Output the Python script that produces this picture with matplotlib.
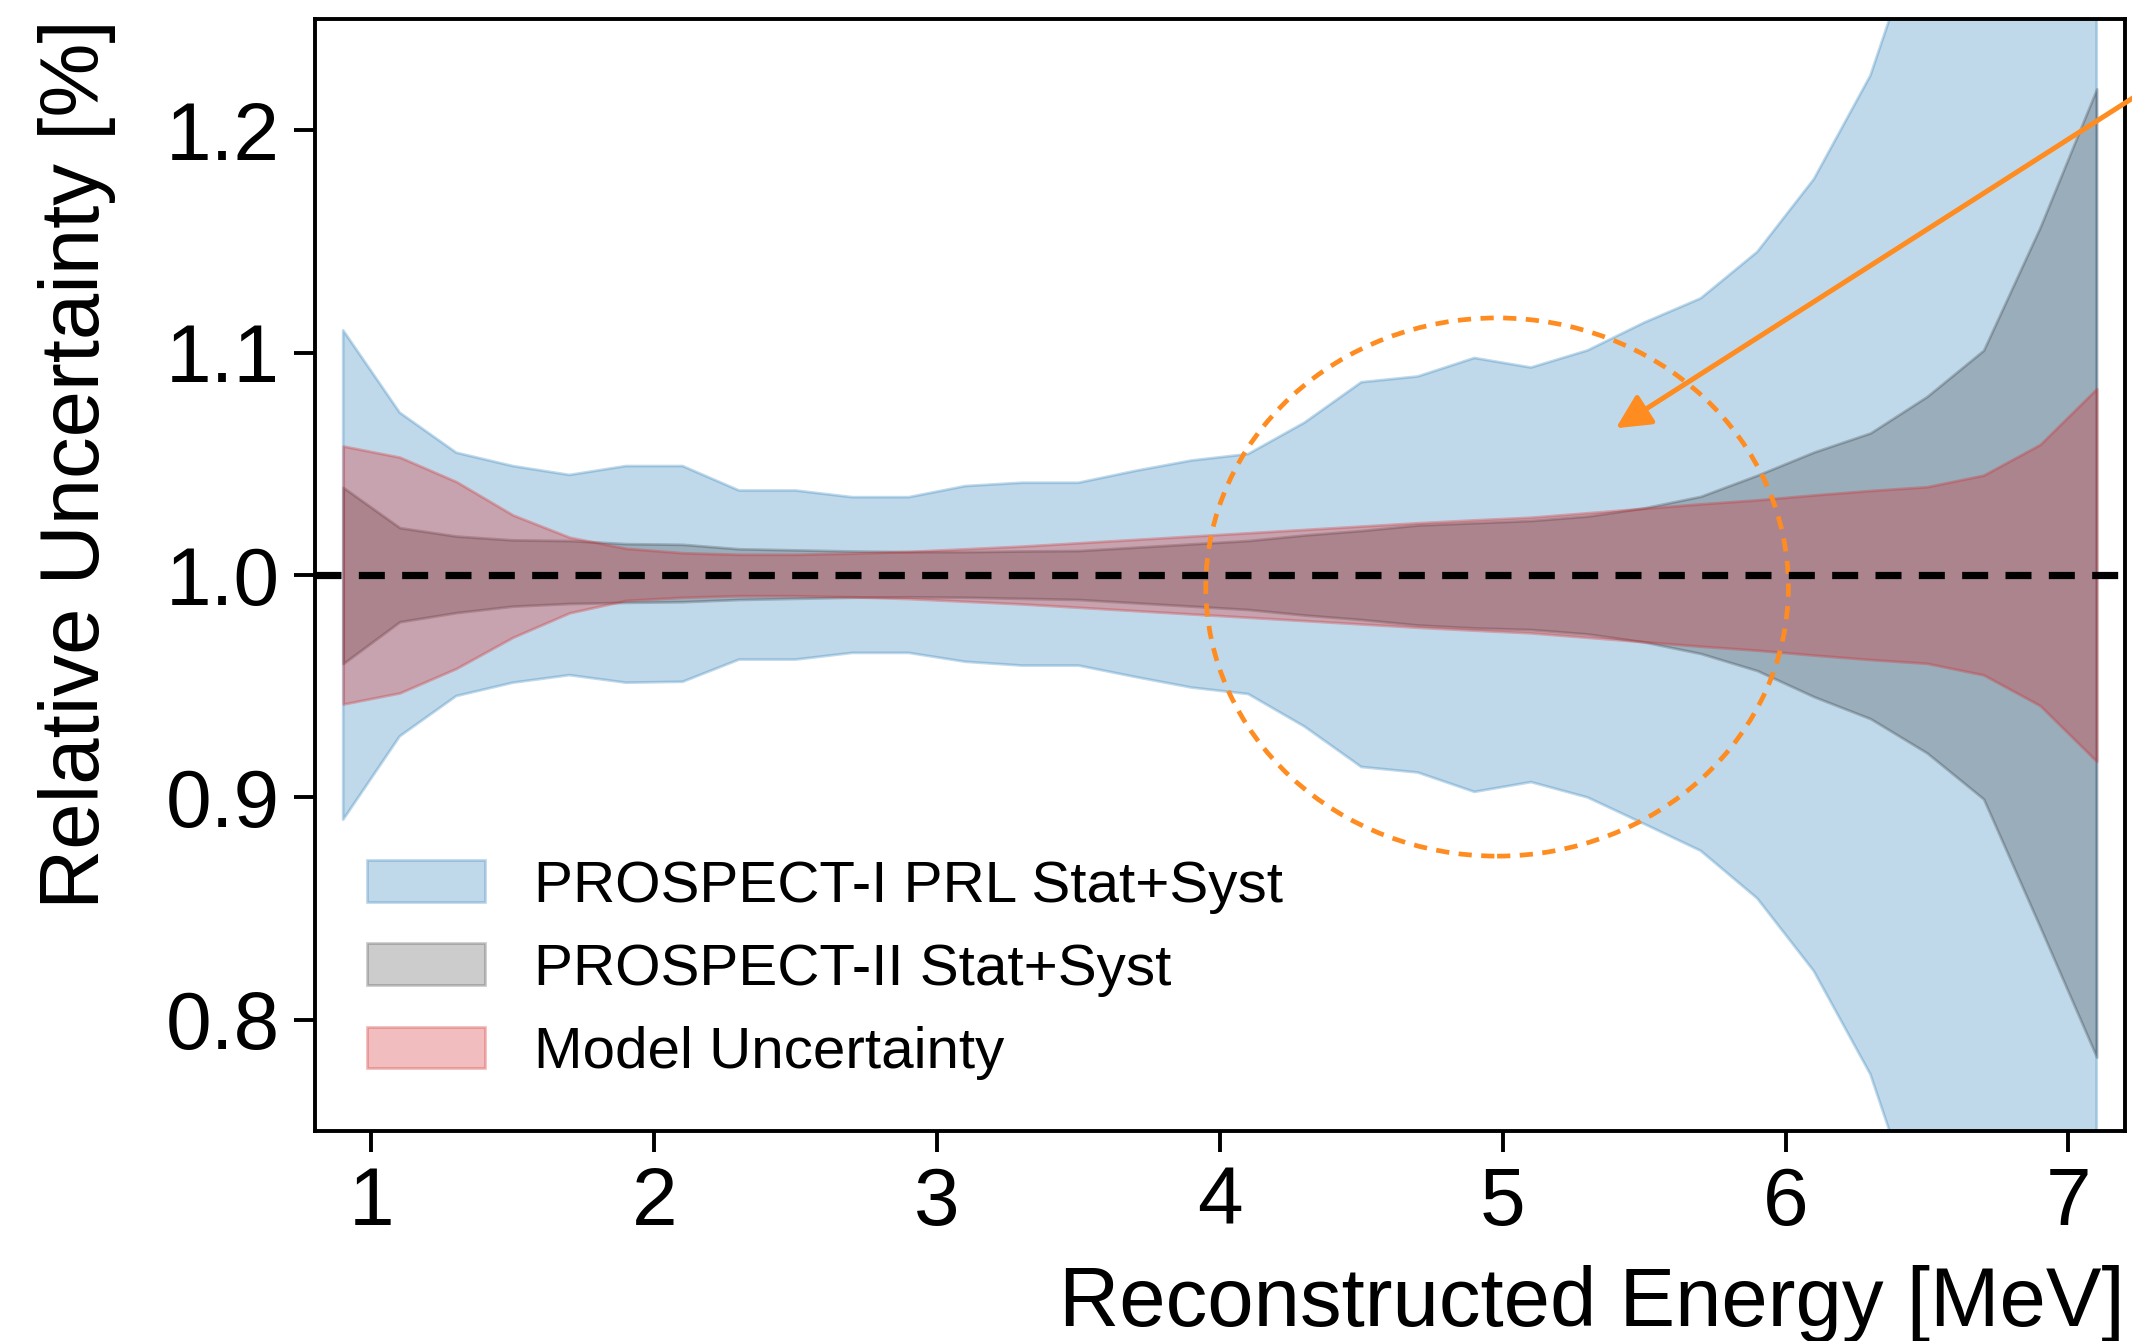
import matplotlib
matplotlib.use("Agg")
import matplotlib.pyplot as plt
from matplotlib.patches import Ellipse

plt.rcParams['font.family'] = ['Liberation Sans', 'DejaVu Sans']

energy = [0.9, 1.1, 1.3, 1.5, 1.7, 1.9, 2.1, 2.3, 2.5, 2.7, 2.9, 3.1, 3.3, 3.5, 3.7, 3.9,
          4.1, 4.3, 4.5, 4.7, 4.9, 5.1, 5.3, 5.5, 5.7, 5.9, 6.1, 6.3, 6.5, 6.7, 6.9, 7.1]

blue_hi = [1.110, 1.073, 1.055, 1.049, 1.045, 1.049, 1.049, 1.038, 1.038, 1.035, 1.035, 1.040,
           1.0415, 1.0415, 1.0468, 1.0515, 1.0544, 1.0686, 1.0867, 1.0893, 1.0976, 1.0933,
           1.101, 1.1135, 1.1244, 1.1453, 1.178, 1.2246, 1.30, 1.38, 1.48, 1.60]
blue_lo = [0.890, 0.9275, 0.9456, 0.9516, 0.955, 0.9516, 0.952, 0.962, 0.962, 0.965, 0.965, 0.961,
           0.9593, 0.9593, 0.9542, 0.9494, 0.9465, 0.9318, 0.9137, 0.9112, 0.9025, 0.9069,
           0.900, 0.8881, 0.876, 0.8546, 0.8219, 0.7755, 0.70, 0.62, 0.52, 0.40]

gray_hi = [1.0394, 1.0213, 1.0175, 1.0158, 1.0155, 1.0141, 1.0138, 1.0118, 1.0113, 1.0108, 1.0105,
           1.0105, 1.0108, 1.011, 1.0125, 1.014, 1.0155, 1.018, 1.020, 1.0225, 1.0235, 1.0245,
           1.0265, 1.0302, 1.0354, 1.0449, 1.0553, 1.0639, 1.0803, 1.1011, 1.1564, 1.2186]
gray_lo = [0.9602, 0.979, 0.9831, 0.986, 0.9872, 0.9877, 0.9880, 0.9890, 0.9895, 0.9900, 0.9902,
           0.9900, 0.9895, 0.9890, 0.9875, 0.9860, 0.9845, 0.9820, 0.9800, 0.9775, 0.9762, 0.9755,
           0.9735, 0.9699, 0.9647, 0.957, 0.9453, 0.9354, 0.920, 0.8993, 0.8417, 0.7832]

red_hi = [1.058, 1.053, 1.042, 1.027, 1.017, 1.012, 1.010, 1.0093, 1.0093, 1.0098, 1.0106, 1.0118,
          1.013, 1.0145, 1.016, 1.0175, 1.019, 1.0205, 1.022, 1.0235, 1.0248, 1.026, 1.028, 1.030,
          1.032, 1.0338, 1.036, 1.038, 1.0397, 1.0449, 1.0587, 1.0838]
red_lo = [0.942, 0.947, 0.958, 0.972, 0.983, 0.9886, 0.990, 0.9907, 0.9907, 0.9902, 0.9894, 0.9882,
          0.987, 0.9855, 0.984, 0.9825, 0.981, 0.9795, 0.978, 0.9765, 0.9752, 0.974, 0.972, 0.970,
          0.968, 0.9662, 0.964, 0.962, 0.9603, 0.9551, 0.9413, 0.9162]

labels = ["PROSPECT-I PRL Stat+Syst", "PROSPECT-II Stat+Syst", "Model Uncertainty"]
xticks = [1, 2, 3, 4, 5, 6, 7]
yticks = [0.8, 0.9, 1.0, 1.1, 1.2]

orange = '#ff8c20'

fig = plt.figure(figsize=(10.66, 6.705), dpi=200)
ax = fig.add_axes([0.1477, 0.1566, 0.849, 0.8292])

ax.fill_between(energy, blue_lo, blue_hi, color='tab:blue', alpha=0.28, label=labels[0])
ax.fill_between(energy, gray_lo, gray_hi, color='black', alpha=0.2, label=labels[1])
ax.fill_between(energy, red_lo, red_hi, color='tab:red', alpha=0.3, label=labels[2])
ax.axhline(1.0, color='black', lw=2.6, ls=(0, (3.6, 2.4)))

ell = Ellipse((4.98, 0.9946), 2.06, 0.242, fill=False, edgecolor=orange,
              lw=1.7, ls=(0, (2.8, 2.0)))
ax.add_patch(ell)
ax.annotate('', xy=(5.40, 1.066), xytext=(7.32, 1.222), xycoords='data',
            arrowprops=dict(arrowstyle='-|>', color=orange, lw=1.8, mutation_scale=26,
                            shrinkA=0, shrinkB=0),
            annotation_clip=False)

ax.set_xlim(0.8, 7.2)
ax.set_ylim(0.75, 1.25)
ax.set_xticks(xticks)
ax.set_yticks(yticks)
ax.tick_params(direction='out', length=7.5, width=1.4, labelsize=29.5, pad=5)
for s in ax.spines.values():
    s.set_linewidth(1.4)

ax.set_xlabel('Reconstructed Energy [MeV]', loc='right', fontsize=30, labelpad=8.5)
ax.set_ylabel('Relative Uncertainty [%]', loc='top', fontsize=30, labelpad=18)

ax.legend(loc='lower left', bbox_to_anchor=(0.0287, 0.046), frameon=False, fontsize=21,
          handlelength=2.03, handleheight=0.72, handletextpad=0.83, labelspacing=0.50,
          borderaxespad=0, borderpad=0)

fig.savefig('out.png', dpi=200)
